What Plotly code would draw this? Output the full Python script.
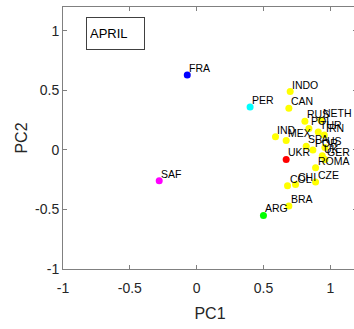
import plotly.graph_objects as go

# Data
labels = ["FRA", "PER", "SAF", "ARG", "UKR",
          "INDO", "CAN", "RUS", "NETH", "IND", "MEX", "POL", "TUR", "IRN",
          "SPA", "POR", "US", "UK", "GER", "ROMA", "CZE", "CHI", "COL", "BRA"]
pc1 = [-0.07, 0.40, -0.28, 0.50, 0.67,
       0.70, 0.69, 0.81, 0.93, 0.59, 0.67, 0.84, 0.91, 0.955,
       0.82, 0.87, 0.96, 0.94, 0.96, 0.89, 0.89, 0.74, 0.68, 0.69]
pc2 = [0.63, 0.36, -0.26, -0.55, -0.08,
       0.49, 0.35, 0.24, 0.25, 0.11, 0.08, 0.18, 0.15, 0.125,
       0.03, 0.00, 0.02, -0.05, -0.08, -0.15, -0.27, -0.29, -0.30, -0.47]
colors = ["#0000FF", "#00FFFF", "#FF00FF", "#00FF00", "#FF0000"] + ["#FFFF00"] * 19

ticks = [-1, -0.5, 0, 0.5, 1]
tick_text = ["-1", "-0.5", "0", "0.5", "1"]

font_family = "Liberation Sans, Arial, sans-serif"

fig = go.Figure()
fig.add_trace(go.Scatter(
    x=pc1, y=pc2, mode="markers",
    marker=dict(color=colors, size=7, line=dict(width=0)),
    cliponaxis=False, showlegend=False, text=labels, hoverinfo="text",
))

annotations = [
    dict(x=xv, y=yv, xref="x", yref="y", text=lab, showarrow=False,
         xanchor="left", yanchor="middle", xshift=0, yshift=7,
         font=dict(family=font_family, size=10.5, color="#000000"))
    for lab, xv, yv in zip(labels, pc1, pc2)
]
annotations.append(dict(
    text="APRIL", xref="paper", yref="paper", x=0.18, y=0.899,
    xanchor="center", yanchor="middle", showarrow=False,
    font=dict(family=font_family, size=13, color="#000000"),
    bordercolor="#404040", borderwidth=1, borderpad=3, width=51, height=25,
    bgcolor="white", align="left",
))

axis_common = dict(
    tickmode="array", tickvals=ticks, ticktext=tick_text,
    ticks="inside", ticklen=4, tickcolor="#808080", tickwidth=1,
    showline=True, linecolor="#808080", linewidth=1, mirror="ticks",
    showgrid=False, zeroline=False,
    tickfont=dict(family=font_family, size=14, color="#262626"),
    title_font=dict(family=font_family, size=16, color="#262626"),
)

fig.update_layout(
    width=357, height=329,
    margin=dict(l=63, r=0, t=7, b=60),
    paper_bgcolor="white", plot_bgcolor="white",
    xaxis=dict(range=[-1, 1.2], ticklabelstandoff=6,
               title=dict(text="PC1", standoff=13), **axis_common),
    yaxis=dict(range=[-1, 1.2], title=dict(text="PC2", standoff=3), **axis_common),
    annotations=annotations,
)

fig.write_html(
    "out.html",
    config={"displayModeBar": False},
    post_script="document.body.style.margin='0';document.body.style.overflow='hidden';",
)
